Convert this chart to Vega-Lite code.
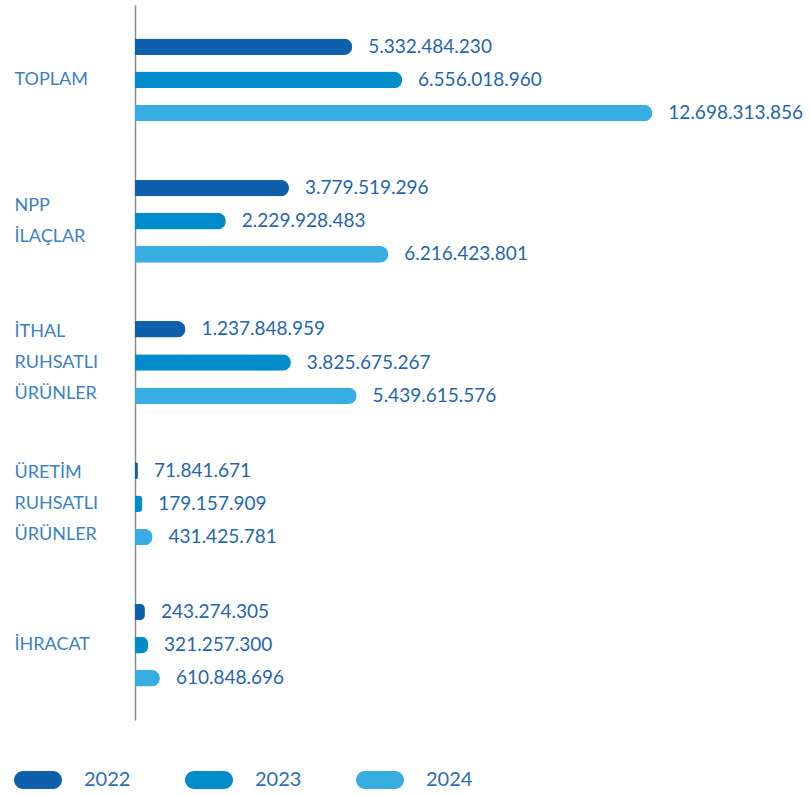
{
  "$schema": "https://vega.github.io/schema/vega-lite/v6.json",
  "autosize": {"type": "none"},
  "padding": {"left": 135, "top": 5, "right": 16, "bottom": 75},
  "width": 660,
  "height": 715,
  "background": "white",
  "config": {
    "view": {"stroke": null},
    "locale": {"number": {"decimal": ",", "thousands": ".", "grouping": [3], "currency": ["", " ₺"]}},
    "font": "Lato"
  },
  "data": {
    "values": [
      {"category": "TOPLAM", "year": "2022", "value": 5332484230},
      {"category": "TOPLAM", "year": "2023", "value": 6556018960},
      {"category": "TOPLAM", "year": "2024", "value": 12698313856},
      {"category": "NPP İLAÇLAR", "year": "2022", "value": 3779519296},
      {"category": "NPP İLAÇLAR", "year": "2023", "value": 2229928483},
      {"category": "NPP İLAÇLAR", "year": "2024", "value": 6216423801},
      {"category": "İTHAL RUHSATLI ÜRÜNLER", "year": "2022", "value": 1237848959},
      {"category": "İTHAL RUHSATLI ÜRÜNLER", "year": "2023", "value": 3825675267},
      {"category": "İTHAL RUHSATLI ÜRÜNLER", "year": "2024", "value": 5439615576},
      {"category": "ÜRETİM RUHSATLI ÜRÜNLER", "year": "2022", "value": 71841671},
      {"category": "ÜRETİM RUHSATLI ÜRÜNLER", "year": "2023", "value": 179157909},
      {"category": "ÜRETİM RUHSATLI ÜRÜNLER", "year": "2024", "value": 431425781},
      {"category": "İHRACAT", "year": "2022", "value": 243274305},
      {"category": "İHRACAT", "year": "2023", "value": 321257300},
      {"category": "İHRACAT", "year": "2024", "value": 610848696}
    ]
  },
  "encoding": {
    "y": {
      "field": "category",
      "type": "nominal",
      "sort": ["TOPLAM", "NPP İLAÇLAR", "İTHAL RUHSATLI ÜRÜNLER", "ÜRETİM RUHSATLI ÜRÜNLER", "İHRACAT"],
      "scale": {"paddingInner": 0, "paddingOuter": 0.03},
      "axis": {
        "title": null,
        "ticks": false,
        "domain": true,
        "domainColor": "#8a8a8a",
        "domainWidth": 1.5,
        "labelAlign": "left",
        "labelPadding": 121,
        "labelFont": "Lato",
        "labelFontSize": 18,
        "labelFontWeight": 400,
        "labelColor": "#3a82c4",
        "labelLineHeight": 31,
        "labelLimit": 300,
        "labelExpr": "split(datum.label, ' ')",
        "labelOffset": {"expr": "-(length(split(datum.value, ' ')) - 1) * 15.5"}
      }
    },
    "yOffset": {
      "field": "year",
      "type": "nominal",
      "sort": ["2022", "2023", "2024"],
      "scale": {"paddingInner": 0.5, "paddingOuter": 0.88}
    },
    "x": {
      "field": "value",
      "type": "quantitative",
      "scale": {"domain": [0, 16200000000], "nice": false},
      "axis": null
    }
  },
  "layer": [
    {
      "mark": {"type": "bar", "cornerRadiusEnd": 8.5},
      "encoding": {
        "color": {
          "field": "year",
          "type": "nominal",
          "scale": {"domain": ["2022", "2023", "2024"], "range": ["#0e60ab", "#018ccc", "#38ade1"]},
          "legend": {
            "title": null,
            "orient": "none",
            "direction": "horizontal",
            "legendX": -121,
            "legendY": 751,
            "symbolType": "M-0.625,-0.375 H0.625 A0.375,0.375 0 0 1 0.625,0.375 H-0.625 A0.375,0.375 0 0 1 -0.625,-0.375 Z",
            "symbolSize": 2304,
            "symbolStrokeWidth": 0,
            "symbolOpacity": 1,
            "labelFont": "Lato",
            "labelFontSize": 20,
            "labelColor": "#2a6db5",
            "labelOffset": 22,
            "columnPadding": 54
          }
        }
      }
    },
    {
      "mark": {"type": "text", "align": "left", "baseline": "middle", "dx": 16, "font": "Lato", "fontSize": 19, "color": "#1f66b0"},
      "encoding": {
        "text": {"field": "value", "type": "quantitative", "format": ",d"}
      }
    }
  ]
}
